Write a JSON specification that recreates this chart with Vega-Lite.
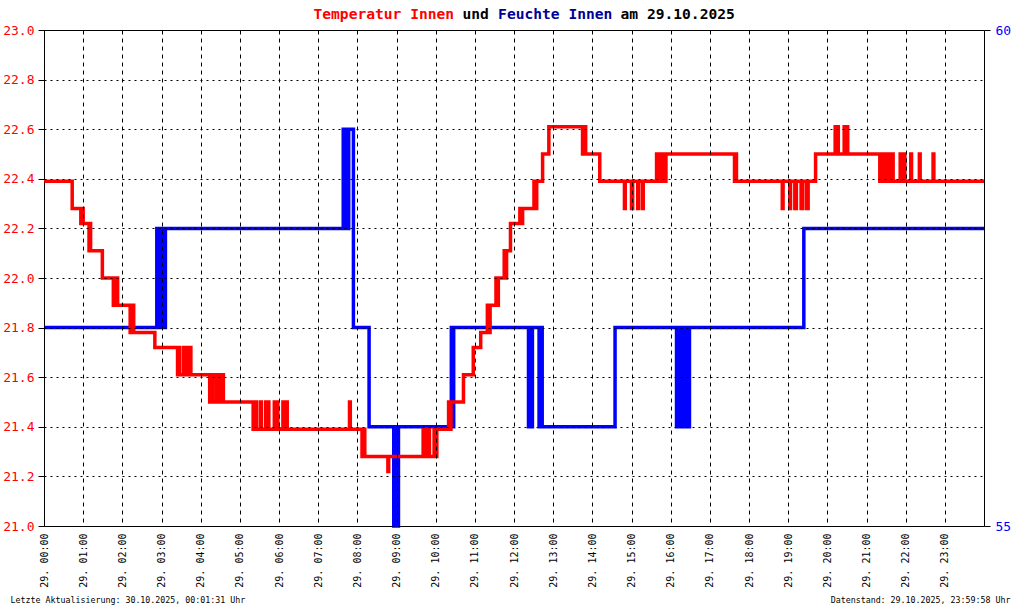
{
  "$schema": "https://vega.github.io/schema/vega-lite/v6.json",
  "width": 940,
  "height": 496,
  "autosize": {"type": "none"},
  "padding": {"left": 44, "top": 30, "right": 36, "bottom": 80},
  "background": "white",
  "title": {
    "text": "und\u00a0\u00a0\u00a0\u00a0\u00a0\u00a0\u00a0\u00a0\u00a0\u00a0\u00a0\u00a0\u00a0\u00a0\u00a0am 29.10.2025",
    "anchor": "start",
    "frame": "group",
    "dx": 418.4,
    "dy": 28,
    "offset": 0,
    "font": "DejaVu Sans Mono",
    "fontSize": 14.6,
    "fontWeight": "bold",
    "color": "black",
    "baseline": "alphabetic"
  },
  "config": {
    "view": {"stroke": "black", "strokeWidth": 1}
  },
  "datasets": {
    "hum": [
      {"h": 0, "v": 57}, {"h": 2.88, "v": 58}, {"h": 2.91, "v": 57}, {"h": 2.96, "v": 58}, {"h": 2.99, "v": 57}, {"h": 3.04, "v": 58}, {"h": 3.07, "v": 57}, {"h": 3.1, "v": 58},
      {"h": 7.64, "v": 59}, {"h": 7.68, "v": 58}, {"h": 7.71, "v": 59}, {"h": 7.75, "v": 58}, {"h": 7.78, "v": 59}, {"h": 7.9, "v": 57},
      {"h": 8.3, "v": 56}, {"h": 8.93, "v": 55}, {"h": 8.97, "v": 56}, {"h": 9.01, "v": 55}, {"h": 9.05, "v": 56},
      {"h": 10.4, "v": 57}, {"h": 10.43, "v": 56}, {"h": 10.46, "v": 57},
      {"h": 12.37, "v": 56}, {"h": 12.4, "v": 57}, {"h": 12.44, "v": 56}, {"h": 12.47, "v": 57}, {"h": 12.64, "v": 56}, {"h": 12.67, "v": 57}, {"h": 12.72, "v": 56},
      {"h": 14.58, "v": 57},
      {"h": 16.15, "v": 56}, {"h": 16.19, "v": 57}, {"h": 16.24, "v": 56}, {"h": 16.3, "v": 57}, {"h": 16.33, "v": 56}, {"h": 16.4, "v": 57}, {"h": 16.43, "v": 56}, {"h": 16.48, "v": 57},
      {"h": 19.4, "v": 58}, {"h": 24, "v": 58}
    ],
    "temp": [
      {"h": 0, "v": 22.39}, {"h": 0.72, "v": 22.28}, {"h": 0.94, "v": 22.22}, {"h": 0.96, "v": 22.28}, {"h": 1.0, "v": 22.22},
      {"h": 1.15, "v": 22.11}, {"h": 1.17, "v": 22.22}, {"h": 1.19, "v": 22.11}, {"h": 1.49, "v": 22.0},
      {"h": 1.77, "v": 21.89}, {"h": 1.86, "v": 22.0}, {"h": 1.88, "v": 21.89},
      {"h": 2.2, "v": 21.78}, {"h": 2.27, "v": 21.89}, {"h": 2.29, "v": 21.78},
      {"h": 2.83, "v": 21.72},
      {"h": 3.41, "v": 21.61}, {"h": 3.45, "v": 21.72}, {"h": 3.46, "v": 21.61}, {"h": 3.56, "v": 21.72}, {"h": 3.58, "v": 21.61}, {"h": 3.66, "v": 21.72}, {"h": 3.68, "v": 21.61}, {"h": 3.73, "v": 21.72}, {"h": 3.75, "v": 21.61},
      {"h": 4.23, "v": 21.5}, {"h": 4.29, "v": 21.61}, {"h": 4.31, "v": 21.5}, {"h": 4.4, "v": 21.61}, {"h": 4.42, "v": 21.5}, {"h": 4.47, "v": 21.61}, {"h": 4.49, "v": 21.5}, {"h": 4.56, "v": 21.61}, {"h": 4.58, "v": 21.5},
      {"h": 5.34, "v": 21.39}, {"h": 5.41, "v": 21.5}, {"h": 5.43, "v": 21.39}, {"h": 5.53, "v": 21.5}, {"h": 5.55, "v": 21.39}, {"h": 5.66, "v": 21.5}, {"h": 5.68, "v": 21.39}, {"h": 5.72, "v": 21.5}, {"h": 5.74, "v": 21.39}, {"h": 5.88, "v": 21.5}, {"h": 5.9, "v": 21.39}, {"h": 5.95, "v": 21.5}, {"h": 5.97, "v": 21.39}, {"h": 6.1, "v": 21.5}, {"h": 6.12, "v": 21.39}, {"h": 6.19, "v": 21.5}, {"h": 6.21, "v": 21.39},
      {"h": 7.8, "v": 21.5}, {"h": 7.82, "v": 21.39},
      {"h": 8.12, "v": 21.28}, {"h": 8.17, "v": 21.39}, {"h": 8.19, "v": 21.28}, {"h": 8.78, "v": 21.22}, {"h": 8.8, "v": 21.28},
      {"h": 9.68, "v": 21.39}, {"h": 9.7, "v": 21.28}, {"h": 9.74, "v": 21.39}, {"h": 9.76, "v": 21.28}, {"h": 9.82, "v": 21.39}, {"h": 9.84, "v": 21.28}, {"h": 9.96, "v": 21.39}, {"h": 9.98, "v": 21.28}, {"h": 10.03, "v": 21.39},
      {"h": 10.33, "v": 21.5}, {"h": 10.36, "v": 21.39}, {"h": 10.39, "v": 21.5},
      {"h": 10.71, "v": 21.61}, {"h": 10.96, "v": 21.72}, {"h": 11.15, "v": 21.78},
      {"h": 11.32, "v": 21.89}, {"h": 11.36, "v": 21.78}, {"h": 11.39, "v": 21.89},
      {"h": 11.54, "v": 22.0}, {"h": 11.58, "v": 21.89}, {"h": 11.6, "v": 22.0},
      {"h": 11.75, "v": 22.11}, {"h": 11.79, "v": 22.0}, {"h": 11.81, "v": 22.11},
      {"h": 11.91, "v": 22.22}, {"h": 12.15, "v": 22.28}, {"h": 12.19, "v": 22.22}, {"h": 12.22, "v": 22.28},
      {"h": 12.51, "v": 22.39}, {"h": 12.55, "v": 22.28}, {"h": 12.58, "v": 22.39},
      {"h": 12.73, "v": 22.5}, {"h": 12.89, "v": 22.61},
      {"h": 13.75, "v": 22.5}, {"h": 13.8, "v": 22.61}, {"h": 13.83, "v": 22.5},
      {"h": 14.19, "v": 22.39},
      {"h": 14.82, "v": 22.28}, {"h": 14.84, "v": 22.39}, {"h": 15.0, "v": 22.28}, {"h": 15.03, "v": 22.39}, {"h": 15.16, "v": 22.28}, {"h": 15.18, "v": 22.39}, {"h": 15.28, "v": 22.28}, {"h": 15.3, "v": 22.39},
      {"h": 15.64, "v": 22.5}, {"h": 15.68, "v": 22.39}, {"h": 15.7, "v": 22.5}, {"h": 15.76, "v": 22.39}, {"h": 15.78, "v": 22.5}, {"h": 15.86, "v": 22.39}, {"h": 15.88, "v": 22.5},
      {"h": 17.63, "v": 22.39}, {"h": 17.66, "v": 22.5}, {"h": 17.68, "v": 22.39},
      {"h": 18.85, "v": 22.28}, {"h": 18.87, "v": 22.39},
      {"h": 19.04, "v": 22.28}, {"h": 19.06, "v": 22.39}, {"h": 19.17, "v": 22.28}, {"h": 19.21, "v": 22.39}, {"h": 19.33, "v": 22.28}, {"h": 19.37, "v": 22.39}, {"h": 19.47, "v": 22.28}, {"h": 19.51, "v": 22.39},
      {"h": 19.7, "v": 22.5},
      {"h": 20.2, "v": 22.61}, {"h": 20.22, "v": 22.5}, {"h": 20.26, "v": 22.61}, {"h": 20.28, "v": 22.5}, {"h": 20.43, "v": 22.61}, {"h": 20.45, "v": 22.5}, {"h": 20.5, "v": 22.61}, {"h": 20.52, "v": 22.5},
      {"h": 21.34, "v": 22.39}, {"h": 21.4, "v": 22.5}, {"h": 21.42, "v": 22.39}, {"h": 21.48, "v": 22.5}, {"h": 21.5, "v": 22.39}, {"h": 21.57, "v": 22.5}, {"h": 21.59, "v": 22.39}, {"h": 21.66, "v": 22.5}, {"h": 21.68, "v": 22.39},
      {"h": 21.86, "v": 22.5}, {"h": 21.88, "v": 22.39}, {"h": 21.96, "v": 22.5}, {"h": 21.98, "v": 22.39},
      {"h": 22.13, "v": 22.5}, {"h": 22.15, "v": 22.39}, {"h": 22.35, "v": 22.5}, {"h": 22.37, "v": 22.39},
      {"h": 22.7, "v": 22.5}, {"h": 22.72, "v": 22.39},
      {"h": 24, "v": 22.39}
    ]
  },
  "layer": [
    {
      "data": {"name": "hum"},
      "mark": {"type": "line", "interpolate": "step-after", "color": "#0000ff", "strokeWidth": 3.5},
      "encoding": {
        "x": {
          "field": "h", "type": "quantitative",
          "scale": {"domain": [0, 24], "nice": false, "zero": false},
          "axis": {
            "orient": "top", "labels": false, "ticks": false, "domain": false, "grid": false,
            "title": "Datenstand: 29.10.2025, 23:59:58 Uhr",
            "titleX": 966, "titleY": 572, "titleAlign": "right", "titleBaseline": "alphabetic",
            "titleFont": "DejaVu Sans Mono", "titleFontSize": 8.3, "titleFontWeight": "normal", "titleColor": "black"
          }
        },
        "y": {
          "field": "v", "type": "quantitative",
          "scale": {"domain": [55, 60], "nice": false, "zero": false},
          "axis": {
            "orient": "right", "values": [55, 60], "format": "d",
            "labelColor": "#0000ff", "labelFont": "DejaVu Sans Mono", "labelFontSize": 13,
            "labelFlush": false, "labelOverlap": false,
            "tickSize": 6, "tickColor": "black", "tickWidth": 1, "labelPadding": 5,
            "domain": false, "grid": false, "zindex": 1,
            "title": "Feuchte Innen", "titleColor": "#000096", "titleAngle": 0,
            "titleX": -486.4, "titleY": -12, "titleAlign": "left", "titleBaseline": "alphabetic",
            "titleFont": "DejaVu Sans Mono", "titleFontSize": 14.6, "titleFontWeight": "bold"
          }
        }
      }
    },
    {
      "data": {"name": "temp"},
      "mark": {"type": "line", "interpolate": "step-after", "color": "#ff0000", "strokeWidth": 3.5},
      "encoding": {
        "x": {
          "field": "h", "type": "quantitative",
          "scale": {"domain": [0, 24], "nice": false, "zero": false},
          "axis": {
            "orient": "bottom",
            "values": [0, 1, 2, 3, 4, 5, 6, 7, 8, 9, 10, 11, 12, 13, 14, 15, 16, 17, 18, 19, 20, 21, 22, 23],
            "labelExpr": "'29. ' + (datum.value < 10 ? '0' : '') + datum.value + ':00'",
            "labelAngle": -90, "labelFont": "DejaVu Sans Mono", "labelFontSize": 10, "labelColor": "black",
            "labelPadding": 7, "labelFlush": false, "labelOverlap": false,
            "ticks": false, "domain": false,
            "grid": true, "gridColor": "black", "gridDash": [4, 4], "gridWidth": 1, "gridOpacity": 1,
            "zindex": 1,
            "title": "Letzte Aktualisierung: 30.10.2025, 00:01:31 Uhr",
            "titleX": -34, "titleY": 76, "titleAlign": "left", "titleBaseline": "alphabetic",
            "titleFont": "DejaVu Sans Mono", "titleFontSize": 8.3, "titleFontWeight": "normal", "titleColor": "black"
          }
        },
        "y": {
          "field": "v", "type": "quantitative",
          "scale": {"domain": [21, 23], "nice": false, "zero": false},
          "axis": {
            "orient": "left",
            "values": [21, 21.2, 21.4, 21.6, 21.8, 22, 22.2, 22.4, 22.6, 22.8, 23],
            "format": ".1f",
            "labelColor": "#ff0000", "labelFont": "DejaVu Sans Mono", "labelFontSize": 13,
            "labelFlush": false, "labelOverlap": false,
            "tickSize": 6, "tickColor": "black", "tickWidth": 1, "labelPadding": 4,
            "domain": false,
            "grid": true, "gridColor": "black", "gridDash": [2, 4], "gridWidth": 1, "gridOpacity": 1,
            "zindex": 1,
            "title": "Temperatur Innen", "titleColor": "#ff0000", "titleAngle": 0,
            "titleX": 269, "titleY": -12, "titleAlign": "left", "titleBaseline": "alphabetic",
            "titleFont": "DejaVu Sans Mono", "titleFontSize": 14.6, "titleFontWeight": "bold"
          }
        }
      }
    }
  ],
  "resolve": {"scale": {"y": "independent"}, "axis": {"x": "independent", "y": "independent"}}
}
